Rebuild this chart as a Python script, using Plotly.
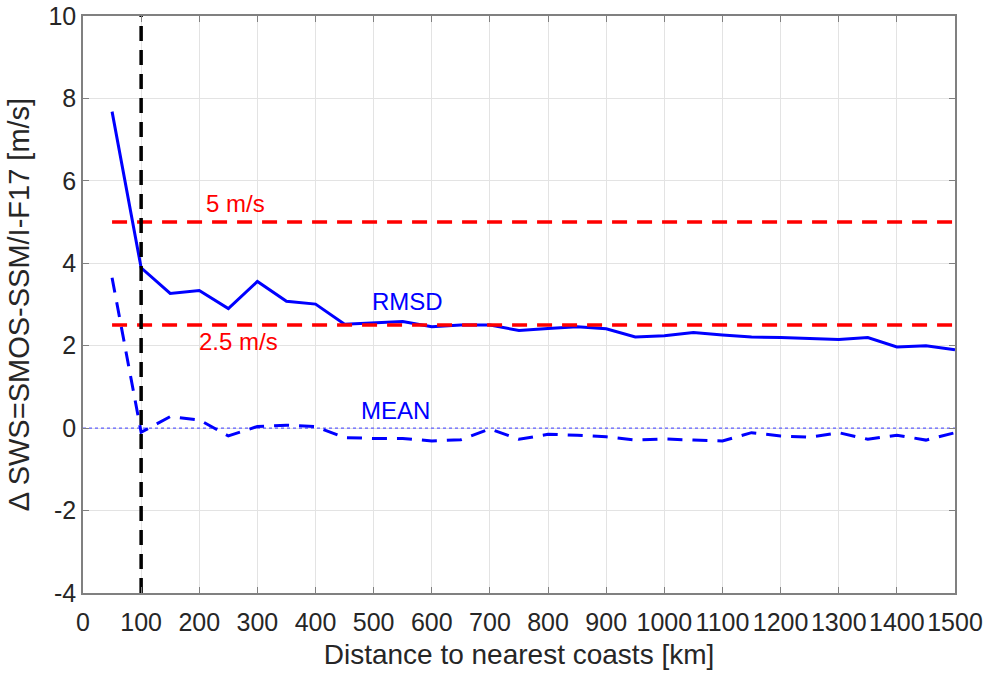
import plotly.graph_objects as go

distance_km = [50, 100, 150, 200, 250, 300, 350, 400, 450, 500, 550, 600, 650, 700, 750,
               800, 850, 900, 950, 1000, 1050, 1100, 1150, 1200, 1250, 1300, 1350, 1400, 1450, 1500]
rmsd = [7.68, 3.89, 3.27, 3.34, 2.90, 3.56, 3.08, 3.01, 2.52, 2.55, 2.59, 2.46, 2.50, 2.50, 2.37,
        2.42, 2.46, 2.41, 2.21, 2.24, 2.32, 2.26, 2.21, 2.20, 2.17, 2.15, 2.20, 1.97, 2.00, 1.90]
mean = [3.65, -0.10, 0.28, 0.20, -0.19, 0.04, 0.07, 0.04, -0.23, -0.25, -0.25, -0.31, -0.28, -0.02, -0.27,
        -0.15, -0.17, -0.21, -0.29, -0.26, -0.29, -0.31, -0.11, -0.19, -0.22, -0.11, -0.27, -0.17, -0.29, -0.11]

thr_x = [50, 1500]
thr_5 = [5, 5]
thr_25 = [2.5, 2.5]
zero_x = [0, 1500]
zero_y = [0, 0]
coast_x = [100, 100]
coast_y = [-4, 10]

x_ticks = list(range(0, 1501, 100))
y_ticks = list(range(-4, 11, 2))

labels = [
    dict(text="5 m/s", x=263, y=5.44, color="#ff0000"),
    dict(text="2.5 m/s", x=267, y=2.11, color="#ff0000"),
    dict(text="RMSD", x=558, y=3.08, color="#0000ff"),
    dict(text="MEAN", x=538, y=0.44, color="#0000ff"),
]

fig = go.Figure()
fig.add_trace(go.Scatter(x=zero_x, y=zero_y, mode="lines",
                         line=dict(color="#5f5fff", width=1.3, dash="dot")))
fig.add_trace(go.Scatter(x=distance_km, y=rmsd, mode="lines",
                         line=dict(color="#0000ff", width=3)))
fig.add_trace(go.Scatter(x=distance_km, y=mean, mode="lines",
                         line=dict(color="#0000ff", width=3, dash="15px,10px")))
fig.add_trace(go.Scatter(x=thr_x, y=thr_5, mode="lines",
                         line=dict(color="#ff0000", width=3.5, dash="15px,10px")))
fig.add_trace(go.Scatter(x=thr_x, y=thr_25, mode="lines",
                         line=dict(color="#ff0000", width=3.5, dash="15px,10px")))
fig.add_trace(go.Scatter(x=coast_x, y=coast_y, mode="lines",
                         line=dict(color="#000000", width=3.5, dash="15px,9px")))

for lb in labels:
    fig.add_annotation(x=lb["x"], y=lb["y"], text=lb["text"], showarrow=False,
                       font=dict(family="Liberation Sans, Arial, sans-serif", size=24, color=lb["color"]))

fig.update_layout(
    width=988, height=675,
    margin=dict(l=83, r=33, t=16, b=82, autoexpand=False),
    paper_bgcolor="white", plot_bgcolor="white",
    showlegend=False,
    font=dict(family="Liberation Sans, Arial, sans-serif", color="#262626"),
)
fig.update_xaxes(range=[0, 1500], tickvals=x_ticks, ticktext=[str(v) for v in x_ticks],
                 automargin=False, ticklabelstandoff=6,
                 showgrid=True, gridcolor="#e3e3e3", gridwidth=1,
                 showline=True, linecolor="#808080", linewidth=1.5, mirror="ticks",
                 ticks="inside", ticklen=6, tickcolor="#808080",
                 tickfont=dict(size=25, color="#262626"), zeroline=False,
                 title=dict(text="Distance to nearest coasts [km]", font=dict(size=28, color="#262626"), standoff=10))
fig.update_yaxes(range=[-4, 10], tickvals=y_ticks, ticktext=[str(v) for v in y_ticks],
                 automargin=False,
                 showgrid=True, gridcolor="#e3e3e3", gridwidth=1,
                 showline=True, linecolor="#808080", linewidth=1.5, mirror="ticks",
                 ticks="inside", ticklen=6, tickcolor="#808080",
                 tickfont=dict(size=25, color="#262626"), zeroline=False,
                 title=dict(text="Δ SWS=SMOS-SSM/I-F17 [m/s]", font=dict(size=29, color="#262626"), standoff=10))

fig.write_html("out.html")
